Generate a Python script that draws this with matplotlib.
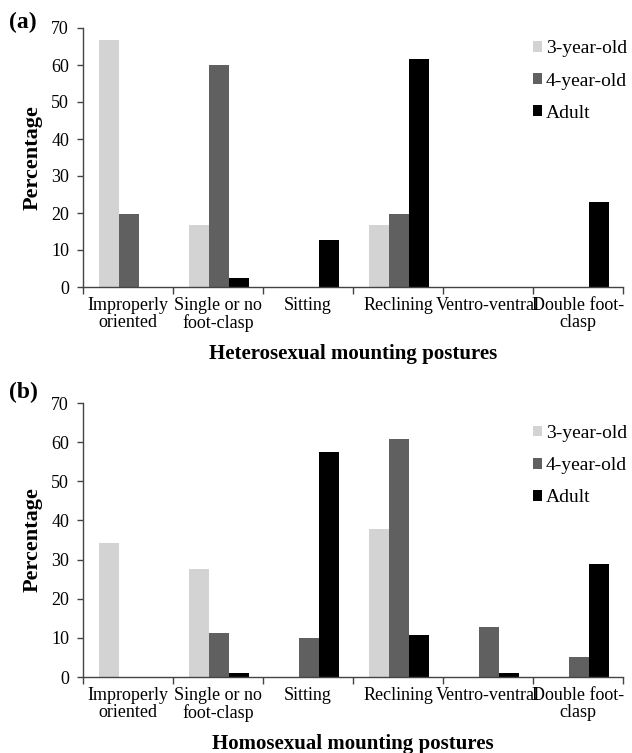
import matplotlib
matplotlib.use("Agg")
import matplotlib.pyplot as plt
import numpy as np

categories = ["Improperly\noriented", "Single or no\nfoot-clasp", "Sitting",
              "Reclining", "Ventro-ventral", "Double foot-\nclasp"]
series = ["3-year-old", "4-year-old", "Adult"]
colors = ["#d3d3d3", "#606060", "#000000"]

hetero_3yr = [66.7, 16.7, 0, 16.7, 0, 0]
hetero_4yr = [19.8, 59.9, 0, 19.8, 0, 0]
hetero_adult = [0, 2.4, 12.8, 61.7, 0, 23.0]

homo_3yr = [34.3, 27.6, 0, 37.7, 0, 0]
homo_4yr = [0, 11.2, 10.0, 60.7, 12.8, 5.0]
homo_adult = [0, 1.1, 57.6, 10.8, 1.1, 28.9]

yticks = [0, 10, 20, 30, 40, 50, 60, 70]

plt.rcParams['font.family'] = ['Liberation Serif', 'DejaVu Serif']

fig = plt.figure(figsize=(6.32, 7.53), dpi=100)

W, H = 632, 753
def ax_rect(left, top, right, bottom):
    return [left / W, 1 - bottom / H, (right - left) / W, (bottom - top) / H]

ax_a = fig.add_axes(ax_rect(83, 28, 623, 287))
ax_b = fig.add_axes(ax_rect(83, 403, 623, 677))

def draw(ax, data, xlabel, panel, panel_y, legend_pos):
    x = np.arange(len(categories))
    bw = 0.22
    offs = [-bw, 0, bw]
    handles = []
    for vals, c, o, name in zip(data, colors, offs, series):
        h = ax.bar(x + o + 0.01, vals, width=bw, color=c, label=name, edgecolor='none')
        handles.append(h)
    ax.set_xlim(-0.5, len(categories) - 0.5)
    ax.set_ylim(0, 70)
    ax.set_yticks(yticks)
    ax.set_xticks(x)
    ax.set_xticklabels(categories, fontsize=13, linespacing=1.0)
    ax.set_xticks(np.arange(len(categories) + 1) - 0.5, minor=True)
    ax.tick_params(axis='x', which='major', length=0, pad=7)
    ax.tick_params(axis='x', which='minor', length=5, width=1, color='#444444', direction='out')
    ax.tick_params(axis='y', length=4, width=1, color='#444444', labelsize=13, pad=6)
    for s in ['top', 'right']:
        ax.spines[s].set_visible(False)
    for s in ['left', 'bottom']:
        ax.spines[s].set_color('#444444')
        ax.spines[s].set_linewidth(1.0)
    ax.set_ylabel("Percentage", fontsize=16, fontweight='bold', labelpad=6)
    ax.set_xlabel(xlabel, fontsize=15, fontweight='bold', labelpad=9)
    ax.text(-0.137, panel_y, panel, transform=ax.transAxes, fontsize=17,
            fontweight='bold', ha='left', va='center')
    ax.legend(handles=handles, loc='upper left', bbox_to_anchor=legend_pos,
              frameon=False, fontsize=14, handlelength=0.47, handleheight=0.47,
              handletextpad=0.2, labelspacing=0.78, borderaxespad=0, borderpad=0)

draw(ax_a, [hetero_3yr, hetero_4yr, hetero_adult],
     "Heterosexual mounting postures", "(a)", 1.02, (0.833, 0.952))
draw(ax_b, [homo_3yr, homo_4yr, homo_adult],
     "Homosexual mounting postures", "(b)", 1.04, (0.833, 0.92))

fig.savefig("out.png", dpi=100)
